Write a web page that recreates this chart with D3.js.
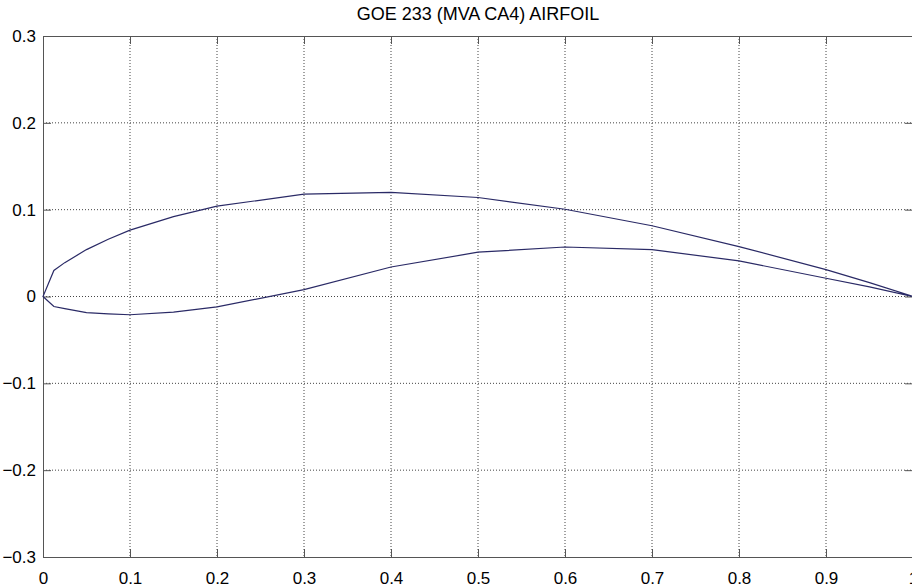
<!DOCTYPE html>
<html>
<head>
<meta charset="utf-8">
<script src="https://cdn.jsdelivr.net/npm/d3@7"></script>
<style>
  body { margin: 0; background: #fff; }
  svg { display: block; font-family: "Liberation Sans", Arial, sans-serif; }
</style>
</head>
<body>
<div id="chart"></div>
<script>
// airfoil coordinates (chord fraction)
var upperX = [0, 0.0125, 0.025, 0.05, 0.075, 0.1, 0.15, 0.2, 0.3, 0.4, 0.5, 0.6, 0.7, 0.8, 0.9, 0.95, 1.0];
var upperY = [0, 0.030, 0.039, 0.054, 0.066, 0.0765, 0.092, 0.104, 0.118, 0.120, 0.114, 0.1005, 0.0815, 0.0575, 0.031, 0.016, 0];
var lowerX = [0, 0.0125, 0.025, 0.05, 0.075, 0.1, 0.15, 0.2, 0.3, 0.4, 0.5, 0.6, 0.7, 0.8, 0.9, 0.95, 1.0];
var lowerY = [0, -0.0115, -0.014, -0.0185, -0.020, -0.021, -0.018, -0.012, 0.008, 0.034, 0.051, 0.057, 0.054, 0.041, 0.021, 0.011, 0];

var xTicks = [0, 0.1, 0.2, 0.3, 0.4, 0.5, 0.6, 0.7, 0.8, 0.9, 1];
var yTicks = [-0.3, -0.2, -0.1, 0, 0.1, 0.2, 0.3];
var title = "GOE 233 (MVA CA4) AIRFOIL";

const layout = {
    width: 912,
    height: 588,
    margin: { top: 36, right: -1, bottom: 31, left: 43 }
};

var innerW = layout.width - layout.margin.left - layout.margin.right;
var innerH = layout.height - layout.margin.top - layout.margin.bottom;

var xScale = d3.scaleLinear().domain([0, 1]).range([0, innerW]);
var yScale = d3.scaleLinear().domain([-0.3, 0.3]).range([innerH, 0]);

var svg = d3.select("#chart").append("svg")
    .attr("width", layout.width)
    .attr("height", layout.height);

var g = svg.append("g")
    .attr("transform", `translate(${layout.margin.left},${layout.margin.top})`);

// dotted grid
g.append("g").selectAll("line")
    .data(xTicks.filter(d => d > 0 && d < 1))
    .join("line")
    .attr("x1", d => xScale(d)).attr("x2", d => xScale(d))
    .attr("y1", 0).attr("y2", innerH)
    .attr("stroke", "#444").attr("stroke-dasharray", "1,2");
g.append("g").selectAll("line")
    .data(yTicks.filter(d => d > -0.3 && d < 0.3))
    .join("line")
    .attr("x1", 0).attr("x2", innerW)
    .attr("y1", d => yScale(d)).attr("y2", d => yScale(d))
    .attr("stroke", "#444").attr("stroke-dasharray", "1,2");

const fmt = d => d === 0 ? "0" : (d === 1 ? "1" : d3.format(".1f")(d));

const styleAxis = function(sel) {
    sel.select(".domain").attr("stroke", "#555");
    sel.selectAll(".tick line").attr("stroke", "#555");
    sel.selectAll(".tick text").attr("fill", "#000").style("font-size", "17px");
    sel.attr("font-family", null);
};

// bottom axis with inward ticks
g.append("g")
    .attr("transform", `translate(0,${innerH})`)
    .call(d3.axisBottom(xScale).tickValues(xTicks).tickFormat(fmt).tickSizeInner(-8).tickSizeOuter(0).tickPadding(15))
    .call(styleAxis);
// top axis, ticks only
g.append("g")
    .call(d3.axisTop(xScale).tickValues(xTicks).tickFormat("").tickSizeInner(-8).tickSizeOuter(0))
    .call(styleAxis);
// left axis
g.append("g")
    .call(d3.axisLeft(yScale).tickValues(yTicks).tickFormat(fmt).tickSizeInner(-8).tickSizeOuter(0).tickPadding(7))
    .call(styleAxis);
// right axis
g.append("g")
    .attr("transform", `translate(${innerW},0)`)
    .call(d3.axisRight(yScale).tickValues(yTicks).tickFormat("").tickSizeInner(-8).tickSizeOuter(0))
    .call(styleAxis);

// outline: trailing edge -> upper -> leading edge -> lower -> trailing edge
var pts = [];
for (var i = upperX.length - 1; i >= 0; i--) pts.push([upperX[i], upperY[i]]);
for (var j = 1; j < lowerX.length; j++) pts.push([lowerX[j], lowerY[j]]);

var line = d3.line()
    .x(d => xScale(d[0]))
    .y(d => yScale(d[1]));

g.append("path")
    .datum(pts)
    .attr("d", line)
    .attr("fill", "none")
    .attr("stroke", "#2a2a66")
    .attr("stroke-width", 1.2);

svg.append("text")
    .attr("x", layout.margin.left + innerW / 2)
    .attr("y", 20)
    .attr("text-anchor", "middle")
    .style("font-size", "18px")
    .text(title);
</script>
</body>
</html>
